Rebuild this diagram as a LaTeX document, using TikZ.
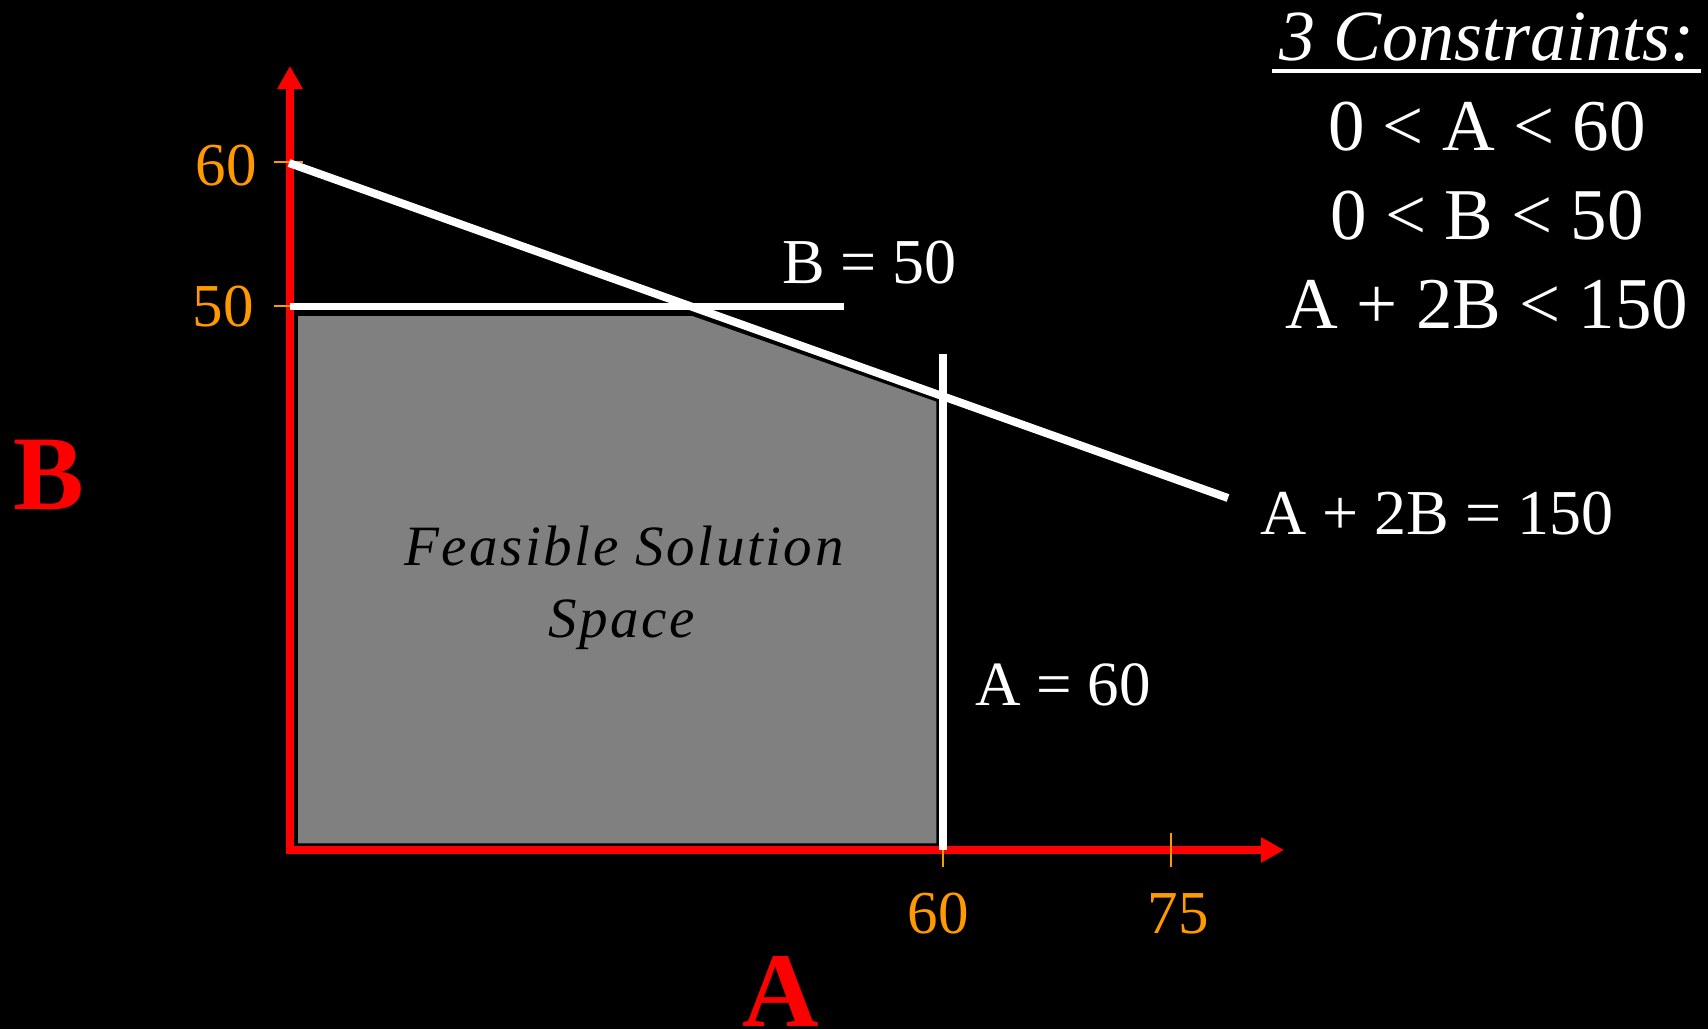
\documentclass[tikz,border=0pt]{standalone}
\usepackage{fontspec}
\setmainfont{Liberation Serif}
\newfontfamily\spacedserif[LetterSpace=4.5]{Liberation Serif}
\usetikzlibrary{arrows.meta}
\definecolor{tickorange}{RGB}{255,153,0}
\definecolor{axisred}{RGB}{255,0,0}
\begin{document}
\begin{tikzpicture}[x=1pt,y=-1pt,
  axisline/.style={draw=axisred,line width=8pt},
  tickline/.style={draw=tickorange,line width=2pt},
  whiteline/.style={draw=white,line width=8pt},
  ticklbl/.style={text=tickorange,inner sep=0pt,font=\fontsize{61}{61}\selectfont},
  wlbl/.style={text=white,inner sep=0pt,font=\fontsize{64}{64}\selectfont},
  conlbl/.style={text=white,inner sep=0pt,anchor=base,font=\fontsize{73}{73}\selectfont},
  bigred/.style={text=axisred,inner sep=0pt,anchor=base west,font=\fontsize{106}{106}\selectfont\bfseries}]
\fill[black] (0,0) rectangle (1708,1029);
\useasboundingbox (0,0) rectangle (1708,1029);
% feasible region
\filldraw[fill=black!50,draw=black,line width=1.5pt]
  (297,315) -- (692,315) -- (937,401) -- (937,844) -- (297,844) -- cycle;
\node[text=black,inner sep=0pt,anchor=base,font=\fontsize{57}{57}\spacedserif\itshape] (feas1) at (624,565) {Feasible Solution};
\node[text=black,inner sep=0pt,anchor=base,font=\fontsize{57}{57}\spacedserif\itshape] (feas2) at (622,637) {Space};
% axes
\coordinate (ytop) at (290,66);
\coordinate (orig) at (290,850);
\coordinate (xend) at (1284,850);
\draw[axisline,{Triangle[length=23pt,width=24pt]}-{Triangle[length=23pt,width=24pt]}] (ytop) -- (orig) -- (xend);
% ticks
\coordinate (ty60a) at (274,162); \coordinate (ty60b) at (303,162);
\coordinate (ty50a) at (274,306); \coordinate (ty50b) at (303,306);
\coordinate (tx60a) at (943,846); \coordinate (tx60b) at (943,867);
\coordinate (tx75a) at (1171,833); \coordinate (tx75b) at (1171,867);
\draw[tickline] (ty60a) -- (ty60b);
\draw[tickline] (ty50a) -- (ty50b);
\draw[tickline] (tx60a) -- (tx60b);
\draw[tickline] (tx75a) -- (tx75b);
\node[ticklbl,anchor=base east] (ly60) at (257,185) {60};
\node[ticklbl,anchor=base east] (ly50) at (254,326) {50};
\node[ticklbl,anchor=base] (lx60) at (938,933) {60};
\node[ticklbl,anchor=base] (lx75) at (1178,933) {75};
% constraint lines
\coordinate (s1) at (289,163); \coordinate (s2) at (1228,498);
\coordinate (h1) at (290,306); \coordinate (h2) at (844,306);
\coordinate (v1) at (943,354); \coordinate (v2) at (943,850);
\draw[whiteline] (s1) -- (s2);
\draw[whiteline,line width=7pt] (h1) -- (h2);
\draw[whiteline] (v1) -- (v2);
\node[wlbl,anchor=base west] (lb50) at (782,283) {B = 50};
\node[wlbl,anchor=base west] (lsum) at (1260,534) {A + 2B = 150};
\node[wlbl,anchor=base west,font=\fontsize{63}{63}\selectfont] (la60) at (975,705) {A = 60};
% axis names
\node[bigred] (nameB) at (13,509) {B};
\node[bigred] (nameA) at (742,1026) {A};
% constraints list
\node[conlbl,font=\fontsize{72}{72}\selectfont\itshape] (ctitle) at (1487,60) {3 Constraints:};
\coordinate (ul1) at (1272,71); \coordinate (ul2) at (1701,71);
\draw[white,line width=4pt] (ul1) -- (ul2);
\node[conlbl] (c1) at (1487,150) {0 < A < 60};
\node[conlbl] (c2) at (1487,239) {0 < B < 50};
\node[conlbl] (c3) at (1487,328) {A + 2B < 150};
\end{tikzpicture}
\end{document}
